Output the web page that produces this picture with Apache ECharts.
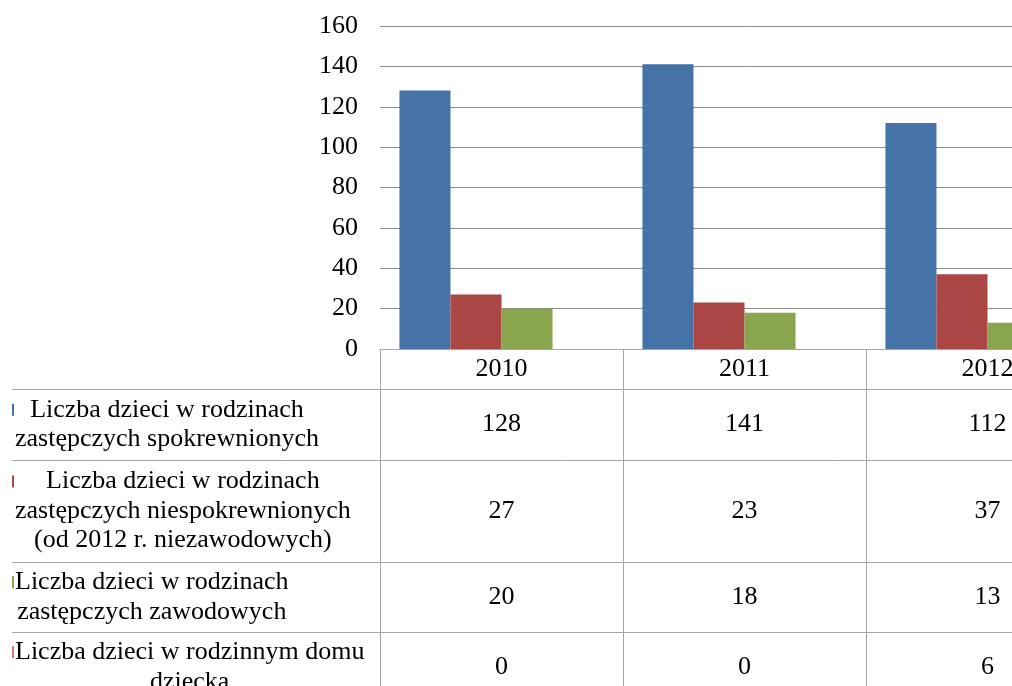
<!DOCTYPE html>
<html>
<head>
<meta charset="utf-8">
<script src="https://cdn.jsdelivr.net/npm/echarts@6/dist/echarts.min.js"></script>
<style>
html, body { margin: 0; padding: 0; overflow: hidden; background: #fff; }
#main { width: 1150px; height: 720px; }
</style>
</head>
<body>
<div id="main"></div>
<script>
// data
var years = ['2010', '2011', '2012'];
var spokrewnione = [128, 141, 112];
var niespokrewnione = [27, 23, 37];
var zawodowe = [20, 18, 13];
var domDziecka = [0, 0, 6];
var yTicks = [0, 20, 40, 60, 80, 100, 120, 140, 160];

var seriesNames = [
  ['Liczba dzieci w rodzinach', 'zastępczych spokrewnionych'],
  ['Liczba dzieci w rodzinach', 'zastępczych niespokrewnionych', '(od 2012 r. niezawodowych)'],
  ['Liczba dzieci w rodzinach', 'zastępczych zawodowych'],
  ['Liczba dzieci w rodzinnym domu', 'dziecka']
];
var seriesData = [spokrewnione, niespokrewnione, zawodowe, domDziecka];
var colors = ['#4572A7', '#AA4643', '#89A54E', '#D9777A'];

var FONT = 'Liberation Serif';
var FS = 26;

var chart = echarts.init(document.getElementById('main'), null, { renderer: 'canvas' });

var option = {
  animation: false,
  color: colors,
  grid: { left: 380, top: 26, right: 41, bottom: 371 },
  xAxis: {
    type: 'category',
    data: years,
    axisLine: { show: true, lineStyle: { color: '#a6a6a6', width: 1 } },
    axisTick: { show: false },
    axisLabel: { show: false }
  },
  yAxis: {
    type: 'value',
    min: yTicks[0],
    max: yTicks[yTicks.length - 1],
    interval: 20,
    axisLine: { show: false },
    axisTick: { show: false },
    axisLabel: { color: '#000', fontFamily: FONT, fontSize: FS, margin: 22 },
    splitLine: { lineStyle: { color: '#8c8c8c', width: 1 } }
  },
  series: seriesData.map(function (d, i) {
    return {
      name: seriesNames[i].join(' '),
      type: 'bar',
      data: d,
      barGap: '0%',
      barCategoryGap: '16%'
    };
  })
};
chart.setOption(option);

// data table below the plot, placed from the axis scales
function buildTable() {
  var ctx = document.createElement('canvas').getContext('2d');
  ctx.font = FS + 'px "' + FONT + '"';
  var c0 = chart.convertToPixel({ xAxisIndex: 0 }, 0);
  var c1 = chart.convertToPixel({ xAxisIndex: 0 }, 1);
  var bw = c1 - c0;
  var top = chart.convertToPixel({ yAxisIndex: 0 }, 0);
  var left = c0 - bw / 2;
  var right = left + bw * years.length;
  var lineCol = '#a6a6a6';
  var rowH = [40, 71, 102, 70, 70];
  var rowY = [top];
  rowH.forEach(function (h, i) { rowY.push(rowY[i] + h); });
  var els = [];
  var line = function (x1, y1, x2, y2) {
    els.push({ type: 'line', shape: { x1: x1, y1: y1, x2: x2, y2: y2 },
      style: { stroke: lineCol, lineWidth: 1 }, silent: true });
  };
  var text = function (str, x, y, align) {
    els.push({ type: 'text', x: x, y: y, silent: true,
      style: { text: str, fill: '#000', font: FS + 'px "' + FONT + '"',
        align: align || 'center', verticalAlign: 'middle' } });
  };
  // vertical lines
  for (var k = 0; k <= years.length; k++) {
    line(Math.round(left + bw * k) + 0.5, top, Math.round(left + bw * k) + 0.5, 720);
  }
  // horizontal lines
  for (var r = 1; r < rowY.length; r++) {
    line(12, Math.round(rowY[r]) + 0.5, right, Math.round(rowY[r]) + 0.5);
  }
  // header
  years.forEach(function (y, i) {
    text(y, left + bw * (i + 0.5), (rowY[0] + rowY[1]) / 2);
  });
  // rows
  var lh = 29.5;
  seriesData.forEach(function (d, i) {
    var cy = (rowY[i + 1] + rowY[i + 2]) / 2;
    var lines = seriesNames[i];
    var maxW = 0;
    lines.forEach(function (s) { maxW = Math.max(maxW, ctx.measureText(s).width); });
    var cx = 15 + maxW / 2;
    var y0 = cy - (lines.length - 1) * lh / 2;
    lines.forEach(function (s, j) { text(s, cx, y0 + j * lh); });
    els.push({ type: 'rect', shape: { x: 12, y: y0 - 6, width: 2, height: 12 },
      style: { fill: colors[i] }, silent: true });
    d.forEach(function (v, j) {
      text(String(v), left + bw * (j + 0.5), cy);
    });
  });
  chart.setOption({ graphic: { elements: els } });
}
buildTable();
</script>
</body>
</html>
